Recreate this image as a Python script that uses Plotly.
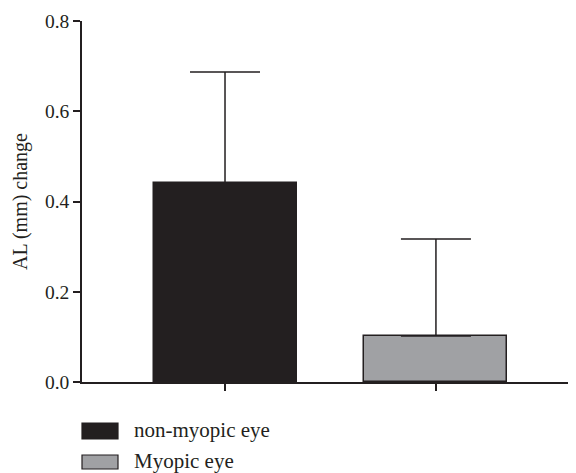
import plotly.graph_objects as go

categories = ["non-myopic eye", "Myopic eye"]
mean_change = [0.441, 0.102]
sd_change = [0.246, 0.215]
bar_colors = ["#231f20", "#a0a1a4"]
y_ticks = [0.0, 0.2, 0.4, 0.6, 0.8]
y_tick_labels = ["0.0", "0.2", "0.4", "0.6", "0.8"]

FONT = "Liberation Serif"
INK = "#231f20"

# page body has an 8px margin, so the figure is 8px smaller and offset
W, H = 568, 465
L, T, B = 74, 13, 91
PW, PH = W - L, H - T - B


def px_x(px):
    return (px - 8 - L) / PW


def px_y(py):
    return (H - B - (py - 8)) / PH


fig = go.Figure()
fig.add_trace(go.Bar(
    x=[0, 1], y=mean_change,
    width=0.678,
    marker=dict(color=bar_colors, line=dict(color=INK, width=1.5)),
    error_y=dict(type="data", array=sd_change, arrayminus=[0, 0], symmetric=False,
                 color=INK, thickness=1.5, width=35),
    showlegend=False,
))

# legend drawn as swatches + text (bottom-left)
leg_rows = [(423, 439), (455, 469)]
for name, col, (top, bot) in zip(categories, bar_colors, leg_rows):
    fig.add_shape(type="rect", xref="paper", yref="paper",
                  x0=px_x(82), x1=px_x(118), y0=px_y(bot), y1=px_y(top),
                  fillcolor=col, line=dict(color=INK, width=1.2))
    fig.add_annotation(xref="paper", yref="paper", x=px_x(132), y=px_y((top + bot) / 2 - 1),
                       text=name, showarrow=False, xanchor="left", yanchor="middle",
                       font=dict(family=FONT, size=21, color=INK))

fig.update_layout(
    width=W, height=H,
    margin=dict(l=L, r=0, t=T, b=B, pad=0),
    paper_bgcolor="white", plot_bgcolor="white",
    font=dict(family=FONT, size=19.5, color=INK),
    bargap=0,
)
fig.update_xaxes(
    range=[-0.678, 1.664], tickvals=[0, 1], ticktext=["", ""],
    ticks="outside", ticklen=7, tickwidth=1.5, tickcolor=INK,
    showline=True, linecolor=INK, linewidth=1.5,
    showgrid=False, zeroline=False,
)
fig.update_yaxes(
    range=[0, 0.8], tickvals=y_ticks, ticktext=y_tick_labels,
    ticks="outside", ticklen=7, tickwidth=1.5, tickcolor=INK,
    showline=True, linecolor=INK, linewidth=1.5,
    showgrid=False, zeroline=False,
    title=dict(text="AL (mm) change", font=dict(family=FONT, size=20, color=INK), standoff=12),
    tickfont=dict(family=FONT, size=19.5, color=INK),
)

fig.write_html("out.html")
